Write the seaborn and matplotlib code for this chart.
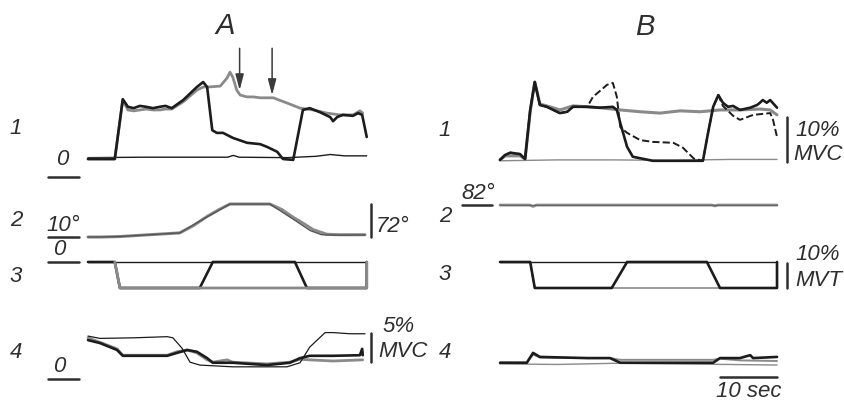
import numpy as np
import pandas as pd
import seaborn as sns
import matplotlib.pyplot as plt

# ---- data (time in s, values in physical units) ----
# panel A, row 1: EMG (% MVC)
a1_t_black = [0, 4.7, 6.1, 7.0, 8.0, 9.1, 10.2, 11.4, 12.6, 13.6, 14.7, 16.7, 19.1, 20.2, 20.9, 21.8, 22.6, 23.7,
              25.4, 27.9, 30.2, 31.4, 33.2, 34.2, 36.0, 37.7, 38.9, 40.7, 42.5, 43.0, 43.7, 44.7, 46.5, 47.4, 48.1, 48.9]
a1_black = [4.0, 4.0, 17.3, 15.6, 15.3, 15.8, 15.6, 15.3, 15.6, 15.8, 15.3, 17.1, 20.0, 21.1, 20.0, 10.4, 9.8, 9.8,
            8.7, 7.6, 7.3, 6.7, 5.6, 4.0, 3.8, 14.9, 15.3, 14.4, 13.3, 12.4, 13.3, 13.8, 13.6, 14.2, 13.8, 8.9]
a1_t_grey = [0, 4.7, 6.1, 7.0, 8.0, 9.1, 10.2, 11.4, 12.6, 13.6, 14.7, 16.7, 19.1, 20.2, 21.1, 23.2, 24.4, 24.9,
             25.4, 26.1, 26.7, 27.9, 29.0, 30.2, 32.5, 35.0, 37.2, 39.5, 41.9, 44.2, 46.5, 47.7, 48.2]
a1_grey = [4.0, 4.0, 17.1, 14.9, 14.7, 14.9, 15.1, 14.9, 14.9, 15.1, 15.1, 16.7, 19.3, 20.0, 20.0, 20.2, 22.0, 23.3,
           22.2, 19.3, 18.2, 17.8, 17.8, 17.6, 17.6, 16.4, 15.3, 14.9, 14.2, 13.8, 13.8, 14.7, 14.2]
a1_t_thin = [0, 10, 20, 24.5, 25.5, 26.5, 35, 40, 42.5, 45, 48.9]
a1_thin = [4.3, 4.4, 4.4, 4.4, 4.8, 4.4, 4.3, 4.6, 5.0, 4.7, 4.7]
a1_arrow_t = [26.6, 32.3]
a1_arrow_tip = [19.3, 18.2]

# panel A, row 2: joint angle (deg)
a2_t_grey = [0, 2.1, 5.5, 16.1, 18.5, 20.9, 23.0, 24.9, 31.9, 34.0, 36.0, 38.0, 39.5, 41.9, 44.0, 48.6]
a2_grey = [10, 10, 11, 19, 35, 55, 70, 82, 82, 70, 53, 38, 26, 16, 15, 15]
a2_t_dark = [0, 2.1, 5.5, 16.1, 20.9, 24.9, 31.9, 36.0, 39.0, 41.0, 43.0, 48.6]
a2_dark = [10, 10, 11, 19, 54, 82, 82, 49, 24, 15, 14, 14.5]

# panel A, row 3: torque (% MVT)
a3_t_ref = [0, 48.9]
a3_ref = [0, 0]
a3_t_black = [0, 4.7, 5.6, 19.6, 21.9, 36.3, 38.4, 48.9, 48.9]
a3_black = [0, 0, -10, -10, 0, 0, -10, -10, 0]
a3_t_grey = [4.7, 5.6, 48.9, 48.9]
a3_grey = [0, -10, -10, 0]

# panel A, row 4: EMG antagonist (% MVC)
a4_t_thin = [0, 2.1, 8.0, 13.9, 14.9, 16.5, 17.9, 19.6, 25.4, 30.0, 34.9, 37.2, 38.9, 41.6, 43.0, 46.0, 48.6]
a4_thin = [7.4, 7.0, 7.1, 7.3, 7.1, 5.3, 2.9, 2.4, 2.1, 2.1, 2.1, 2.8, 5.5, 8.0, 8.0, 7.8, 7.8]
a4_t_black = [0, 2.1, 5.1, 6.1, 7.9, 13.9, 15.6, 17.4, 19.1, 20.9, 21.9, 25.4, 31.4, 35.4, 37.2, 38.9, 43.0,
              47.7, 48.1, 48.2]
a4_black = [6.7, 6.2, 5.0, 4.0, 4.0, 4.0, 4.5, 5.0, 4.7, 3.6, 2.8, 2.8, 2.4, 2.8, 3.6, 4.0, 4.0, 4.1, 5.2, 4.1]
a4_t_grey = [0, 5.1, 6.1, 13.9, 15.6, 17.4, 19.1, 20.9, 21.9, 24.4, 25.4, 31.4, 35.4, 37.2, 38.9, 43.0, 48.2]
a4_grey = [7.1, 5.2, 4.1, 4.1, 4.7, 5.0, 4.5, 3.3, 2.9, 3.3, 2.9, 2.6, 2.9, 3.4, 3.3, 3.1, 3.3]

# panel B, row 1
b1_t_black = [0, 0.9, 1.8, 3.5, 4.4, 5.3, 6.1, 7.0, 8.2, 10.5, 11.8, 12.8, 15.3, 17.5, 19.8, 20.5, 21.1, 22.3,
              23.3, 26.8, 32.8, 35.6, 36.5, 37.4, 38.3, 39.1, 40.0, 40.9, 42.1, 43.9, 45.1, 45.6, 46.1, 46.8, 47.4, 48.6]
b1_black = [3.8, 4.9, 5.4, 5.1, 4.0, 14.9, 21.1, 16.0, 15.6, 14.2, 14.5, 15.6, 15.6, 15.4, 15.6, 14.9, 12.0, 6.7,
            4.5, 3.6, 3.6, 3.6, 9.8, 15.6, 18.2, 16.5, 15.6, 15.8, 14.9, 15.4, 16.0, 16.5, 17.1, 16.5, 17.1, 15.4]
b1_t_grey = [0, 0.9, 3.5, 4.4, 5.3, 6.1, 7.0, 8.2, 9.3, 10.5, 12.8, 15.3, 17.5, 21.1, 24.6, 28.1, 31.6, 35.1,
             38.6, 42.1, 45.6, 47.4, 48.6]
b1_grey = [3.8, 4.7, 4.7, 4.0, 14.5, 21.1, 16.2, 15.8, 15.4, 14.9, 15.8, 15.6, 15.4, 14.9, 14.5, 14.2, 14.7, 14.5,
           14.9, 14.9, 15.1, 14.9, 13.8]
b1_t_dash = [0, 0.9, 1.8, 3.5, 4.4, 5.3, 6.1, 7.0, 8.2, 10.5, 11.8, 12.8, 15.3, 16.3, 18.8, 19.8, 20.5, 21.1,
             22.3, 24.6, 26.8, 30.4, 32.1, 32.8, 34.0, 35.6, 36.5, 37.4, 38.3, 39.1, 40.9, 42.1, 44.4, 47.4, 47.9, 48.6]
b1_dash = [3.8, 4.9, 5.4, 5.1, 4.0, 14.9, 21.1, 16.0, 15.6, 14.2, 14.5, 15.6, 15.6, 17.8, 20.5, 20.9, 17.8, 11.1,
           9.8, 8.2, 7.8, 7.6, 6.5, 5.6, 4.1, 3.6, 9.8, 15.6, 18.2, 15.8, 13.6, 12.7, 13.8, 14.2, 12.7, 8.9]
b1_t_thin = [0, 10, 20, 30, 40, 48.6]
b1_thin = [3.6, 3.8, 3.8, 3.7, 3.9, 3.9]

# panel B, row 2
b2_t_grey = [0, 5.2, 5.8, 6.4, 37.2, 37.7, 38.2, 48.6]
b2_grey = [82, 82, 79, 82, 82, 80, 82, 82]
b2_t_dark = [0, 48.6]
b2_dark = [82.3, 82.3]

# panel B, row 3
b3_t_ref = [0, 48.6]
b3_ref = [0, 0]
b3_t_grey = [0, 5.3, 6.1, 48.6]
b3_grey = [0, 0, -10, -10]
b3_t_black = [0, 5.3, 6.1, 19.6, 22.3, 36.3, 38.6, 48.6, 48.6]
b3_black = [0, 0, -10, -10, 0, 0, -10, -10, 0]

# panel B, row 4
b4_t_black = [0, 4.7, 5.8, 7.0, 11.0, 15.3, 19.3, 21.1, 30.0, 37.4, 38.6, 42.1, 43.9, 44.4, 48.6]
b4_black = [1.6, 1.6, 3.3, 2.6, 2.5, 2.4, 2.4, 1.6, 1.6, 1.6, 2.4, 2.4, 2.9, 2.4, 2.6]
b4_t_grey1 = [0, 10, 20, 30, 40, 48.6]
b4_grey1 = [1.4, 1.3, 1.5, 1.4, 1.3, 1.2]
b4_t_grey2 = [0, 4.7, 5.8, 7.0, 15.3, 19.3, 21.1, 30.0, 37.4, 38.6, 42.1, 48.6]
b4_grey2 = [1.6, 1.6, 3.0, 2.5, 2.4, 2.4, 2.1, 2.1, 2.1, 2.3, 2.0, 1.9]

# ---- layout ----
W, H = 845, 401
PX_S = 5.7
BLACK = "#1c1c1c"
GREY = "#8a8a8a"
INK = "#2e2e2e"

sns.set_style("white")
plt.rcParams["font.family"] = ["Liberation Sans", "DejaVu Sans"]
plt.rcParams["font.style"] = "italic"

fig = plt.figure(figsize=(W / 100, H / 100), dpi=100)


def row_axes(x0, y0, px_unit):
    # transparent full-figure axes; t=0 at pixel x0, value 0 at pixel y0
    ax = fig.add_axes([0, 0, 1, 1])
    ax.axis("off")
    ax.patch.set_alpha(0)
    return ax


def trace(ax, t, v, color=BLACK, lw=1.8, ls="-"):
    sns.lineplot(x=t, y=v, ax=ax, color=color, linewidth=lw, linestyle=ls,
                 estimator=None, sort=False, legend=False)


def finish(ax, x0, y0, px_unit):
    ax.set_xlim(-x0 / PX_S, (W - x0) / PX_S)
    ax.set_ylim(-(H - y0) / px_unit, y0 / px_unit)


TXT = dict(fontsize=16, style="italic", color=INK)

# panel A
a1 = row_axes(88, 177, 4.5)
trace(a1, a1_t_thin, a1_thin, BLACK, 1.0)
trace(a1, a1_t_grey, a1_grey, GREY, 2.0)
trace(a1, a1_t_black, a1_black, BLACK, 1.9)
for tt, tip in zip(a1_arrow_t, a1_arrow_tip):
    a1.annotate("", xy=(tt, tip), xytext=(tt, 28.6),
                arrowprops=dict(arrowstyle="-|>,head_length=0.95,head_width=0.25",
                                color="#3a3a3a", lw=1.1, mutation_scale=10, shrinkA=0, shrinkB=0))
a1.plot([-7.0, -1.6], [0, 0], color=INK, lw=1.8)
a1.text(-4.5, 1.5, "0", ha="center", va="bottom", **TXT)
finish(a1, 88, 177, 4.5)

a2 = row_axes(88, 241.6, 0.458)
trace(a2, a2_t_grey, a2_grey, GREY, 2.2)
trace(a2, a2_t_dark, a2_dark, "#555555", 1.0)
a2.plot([-7.0, -1.6], [10, 10], color=INK, lw=1.8)
a2.text(-4.3, 13, "10°", ha="center", va="bottom", **TXT)
a2.plot([49.6, 49.6], [10, 82], color=INK, lw=1.8)
a2.text(50.4, 34, "72°", ha="left", va="center", **TXT)
finish(a2, 88, 241.6, 0.458)

a3 = row_axes(88, 262, 2.6)
trace(a3, a3_t_ref, a3_ref, BLACK, 1.0)
trace(a3, a3_t_black, a3_black, BLACK, 1.9)
trace(a3, a3_t_grey, a3_grey, GREY, 2.0)
a3.plot([-7.0, -1.6], [0, 0], color=INK, lw=1.8)
a3.text(-5.0, 0.6, "0", ha="center", va="bottom", **TXT)
finish(a3, 88, 262, 2.6)

a4 = row_axes(88, 379, 5.8)
trace(a4, a4_t_grey, a4_grey, GREY, 2.0)
trace(a4, a4_t_thin, a4_thin, BLACK, 0.9)
trace(a4, a4_t_black, a4_black, BLACK, 1.9)
a4.plot([-7.0, -1.6], [0, 0], color=INK, lw=1.8)
a4.text(-5.0, 0.3, "0", ha="center", va="bottom", **TXT)
a4.plot([49.6, 49.6], [2.9, 7.9], color=INK, lw=1.8)
a4.text(51.7, 9.1, "5%", ha="left", va="center", **TXT)
a4.text(51.0, 4.7, "MVC", ha="left", va="center", **TXT)
finish(a4, 88, 379, 5.8)

# panel B
b1 = row_axes(500, 177, 4.5)
trace(b1, b1_t_thin, b1_thin, GREY, 1.0)
trace(b1, b1_t_grey, b1_grey, GREY, 2.2)
trace(b1, b1_t_dash, b1_dash, BLACK, 1.4, "--")
trace(b1, b1_t_black, b1_black, BLACK, 1.9)
b1.plot([50.4, 50.4], [3.3, 13.3], color=INK, lw=1.8)
b1.text(51.8, 10.4, "10%", ha="left", va="center", **TXT)
b1.text(51.5, 4.9, "MVC", ha="left", va="center", **TXT)
finish(b1, 500, 177, 4.5)

b2 = row_axes(500, 242.6, 0.458)
trace(b2, b2_t_grey, b2_grey, GREY, 2.0)
trace(b2, b2_t_dark, b2_dark, "#666666", 0.8)
b2.plot([-6.7, -1.4], [82, 82], color=INK, lw=1.8)
b2.text(-3.8, 85, "82°", ha="center", va="bottom", **TXT)
finish(b2, 500, 242.6, 0.458)

b3 = row_axes(500, 262, 2.6)
trace(b3, b3_t_ref, b3_ref, BLACK, 1.0)
trace(b3, b3_t_grey, b3_grey, GREY, 1.2)
trace(b3, b3_t_black, b3_black, BLACK, 1.9)
b3.plot([50.4, 50.4], [-0.4, -10], color=INK, lw=1.8)
b3.text(51.8, 2.7, "10%", ha="left", va="center", **TXT)
b3.text(51.8, -7.0, "MVT", ha="left", va="center", **TXT)
finish(b3, 500, 262, 2.6)

b4 = row_axes(500, 372, 5.8)
trace(b4, b4_t_grey1, b4_grey1, GREY, 1.0)
trace(b4, b4_t_grey2, b4_grey2, GREY, 1.4)
trace(b4, b4_t_black, b4_black, BLACK, 1.9)
b4.plot([38.6, 48.6], [-0.86, -0.86], color=INK, lw=1.8)
b4.text(43.6, -1.6, "10 sec", ha="center", va="top", **TXT)
finish(b4, 500, 372, 5.8)

# panel letters and row numbers
lab = fig.add_axes([0, 0, 1, 1])
lab.set_xlim(0, W)
lab.set_ylim(H, 0)
lab.axis("off")
lab.patch.set_alpha(0)
lab.text(225, 26, "A", ha="center", va="center", fontsize=21, style="italic", color=INK)
lab.text(645, 27, "B", ha="center", va="center", fontsize=21, style="italic", color=INK)
for num, ya, yb in zip(["1", "2", "3", "4"], [128, 220, 276, 352], [130, 217, 275, 353]):
    lab.text(16, ya, num, ha="center", va="center", **TXT)
    lab.text(445, yb, num, ha="center", va="center", **TXT)

fig.savefig("out.png", dpi=100)
